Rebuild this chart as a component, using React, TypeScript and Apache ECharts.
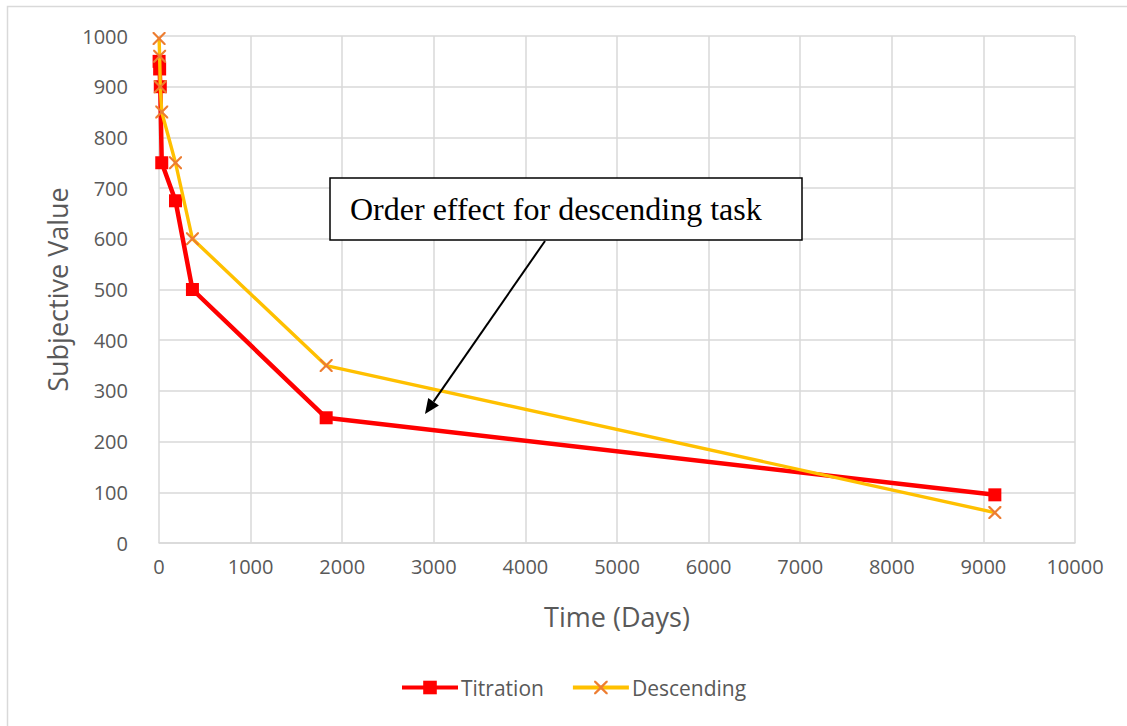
import React, { useEffect, useRef } from "react";
import * as echarts from "echarts";

// Delay (days) at which each subjective value was measured
const delayDays = [1, 7, 14, 30, 180, 365, 1825, 9125];
const titrationValues = [950, 935, 900, 750, 675, 500, 247, 95];
const descendingValues = [995, 960, 900, 850, 750, 600, 350, 60];
const xTicks = { min: 0, max: 10000, interval: 1000 };
const yTicks = { min: 0, max: 1000, interval: 100 };

const annotationText = "Order effect for descending task";

// Filled "X" marker
const crossSymbol =
  "path://M0,0 L1.2,0 L5,3.8 L8.8,0 L10,0 L10,1.2 L6.2,5 L10,8.8 L10,10 L8.8,10 L5,6.2 L1.2,10 L0,10 L0,8.8 L3.8,5 L0,1.2 Z";

const FONT = "'Open Sans', sans-serif";
const GREY = "#595959";
const GRID = "#d9d9d9";

export default function App() {
  const ref = useRef<HTMLDivElement>(null);

  useEffect(() => {
    document.body.style.margin = "0";
    if (!ref.current) return;
    const chart = echarts.init(ref.current, undefined, { renderer: "svg" });

    const toPairs = (vals: number[]) => vals.map((v, i) => [delayDays[i], v]);
    const plain = (v: number) => String(v);

    // arrow geometry
    const start = [545, 241];
    const tip = [425, 414];
    const dx = tip[0] - start[0];
    const dy = tip[1] - start[1];
    const len = Math.hypot(dx, dy);
    const ux = dx / len;
    const uy = dy / len;
    const headLen = 15;
    const headHalf = 6.5;
    const base = [tip[0] - ux * headLen, tip[1] - uy * headLen];
    const px = -uy;
    const py = ux;

    chart.setOption({
      animation: false,
      backgroundColor: "#fff",
      grid: { left: 159, right: 52, top: 36, bottom: 183 },
      xAxis: {
        type: "value",
        min: xTicks.min,
        max: xTicks.max,
        interval: xTicks.interval,
        name: "Time (Days)",
        nameLocation: "middle",
        nameGap: 60,
        nameTextStyle: { fontFamily: FONT, fontSize: 27, color: GREY },
        axisLine: { show: true, lineStyle: { color: GRID, width: 1.5 } },
        axisTick: { show: false },
        axisLabel: { fontFamily: FONT, fontSize: 20, color: GREY, margin: 13, formatter: plain },
        splitLine: { show: true, lineStyle: { color: GRID, width: 1.5 } },
      },
      yAxis: {
        type: "value",
        min: yTicks.min,
        max: yTicks.max,
        interval: yTicks.interval,
        name: "Subjective Value",
        nameLocation: "middle",
        nameGap: 80,
        nameTextStyle: { fontFamily: FONT, fontSize: 27, color: GREY },
        axisLine: { show: false },
        axisTick: { show: false },
        axisLabel: { fontFamily: FONT, fontSize: 20, color: GREY, margin: 31, formatter: plain },
        splitLine: { show: true, lineStyle: { color: GRID, width: 1.5 } },
      },
      legend: {
        bottom: 23,
        left: 395,
        itemWidth: 56,
        itemHeight: 17,
        itemGap: 27,
        lineStyle: { width: 4 },
        textStyle: { fontFamily: FONT, fontSize: 21, color: GREY, padding: [0, 0, 0, -2] },
        data: ["Titration", "Descending"],
      },
      series: [
        {
          name: "Titration",
          type: "line",
          data: toPairs(titrationValues),
          symbol: "rect",
          symbolSize: 13,
          itemStyle: { color: "#FF0000" },
          lineStyle: { color: "#FF0000", width: 4.5 },
          z: 2,
        },
        {
          name: "Descending",
          type: "line",
          data: toPairs(descendingValues),
          symbol: crossSymbol,
          symbolSize: 13,
          itemStyle: { color: "#ED7D31" },
          lineStyle: { color: "#FFC000", width: 3.4 },
          z: 3,
        },
      ],
      graphic: [
        {
          type: "rect",
          shape: { x: 7.5, y: 6.5, width: 1300, height: 900 },
          style: { fill: "none", stroke: GRID, lineWidth: 1.5 },
          silent: true,
          z: 0,
        },
        {
          type: "line",
          shape: { x1: start[0], y1: start[1], x2: base[0], y2: base[1] },
          style: { stroke: "#000", lineWidth: 2 },
          z: 10,
        },
        {
          type: "polygon",
          shape: {
            points: [
              tip,
              [base[0] + px * headHalf, base[1] + py * headHalf],
              [base[0] - px * headHalf, base[1] - py * headHalf],
            ],
          },
          style: { fill: "#000" },
          z: 10,
        },
        {
          type: "rect",
          shape: { x: 330, y: 178, width: 472, height: 62 },
          style: { fill: "#fff", stroke: "#000", lineWidth: 1.5 },
          z: 10,
        },
        {
          type: "text",
          x: 350,
          y: 209,
          style: {
            text: annotationText,
            font: "32px 'Liberation Serif', 'Times New Roman', serif",
            fill: "#000",
            verticalAlign: "middle",
            align: "left",
          },
          z: 11,
        },
      ],
    });

    return () => chart.dispose();
  }, []);

  return <div ref={ref} style={{ width: 1127, height: 726 }} />;
}
